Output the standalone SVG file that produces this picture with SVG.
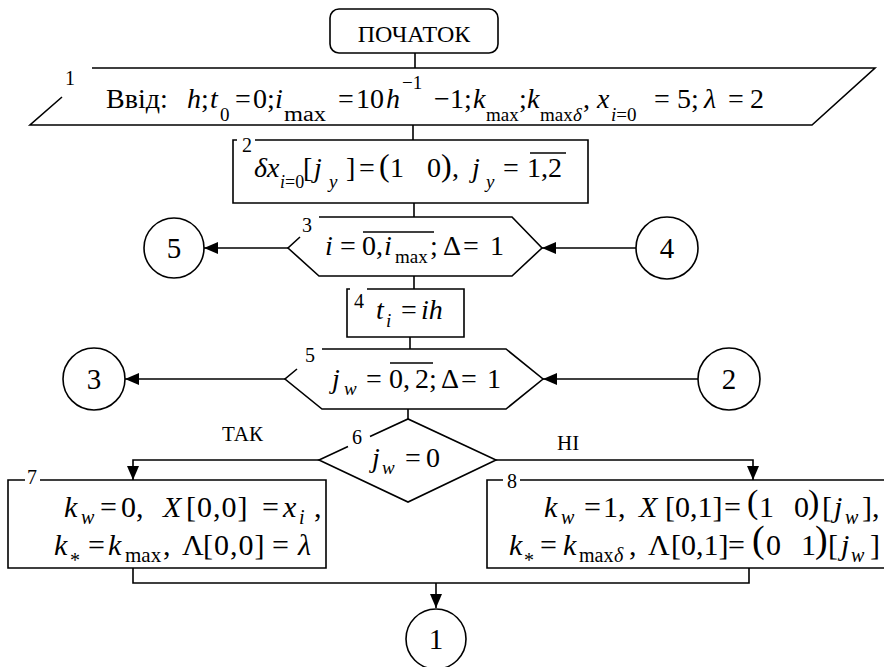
<svg xmlns="http://www.w3.org/2000/svg" width="884" height="667" viewBox="0 0 884 667" font-family="'Liberation Serif', 'Times New Roman', serif">
<defs>
<marker id="ah" markerWidth="14" markerHeight="12" refX="14" refY="6" orient="auto" markerUnits="userSpaceOnUse"><path d="M0,0 L14,6 L0,12 z" fill="#000"/></marker>
</defs>
<style>
text{font-family:'Liberation Serif','Times New Roman',serif;fill:#000}
.m{font-size:28px}
.b{font-size:30px}
.i{font-style:italic}
.s{font-size:19px}
.s2{font-size:20px}
.n{font-size:20px}
.sh{fill:none;stroke:#000;stroke-width:1.6}
.ol{stroke:#000;stroke-width:1.3}
.c{fill:#fff;stroke:#000;stroke-width:1.6}
</style>
<rect width="884" height="667" fill="#fff"/>

<g id="connectors" class="sh">
<path d="M415,53 V68"/>
<path d="M413,125 V140"/>
<path d="M414,203 V217"/>
<path d="M414,276 V289"/>
<path d="M410,337 V349"/>
<path d="M408,409 V419"/>
<path d="M288,248 H204" marker-end="url(#ah)"/>
<path d="M636,248 H542" marker-end="url(#ah)"/>
<path d="M285,379 H125" marker-end="url(#ah)"/>
<path d="M698,379 H543" marker-end="url(#ah)"/>
<path d="M319,460 H133 V480" marker-end="url(#ah)"/>
<path d="M496,460 H753 V480" marker-end="url(#ah)"/>
<path d="M133,568 V583 H749 V568"/>
<path d="M436,583 V608" marker-end="url(#ah)"/>
</g>

<g id="start">
<rect class="sh" x="330" y="9" width="168" height="44" rx="9"/>
<text x="414" y="42" font-size="24" text-anchor="middle">ПОЧАТОК</text>
</g>

<g id="n1">
<path class="sh" d="M62,97 L30,125 H812 L875,68 H92"/>
<text class="n" x="65" y="85">1</text>
<text class="m">
<tspan x="106" y="108">Ввід:</tspan>
<tspan x="187" y="108" class="i">h</tspan><tspan x="201" y="108">;</tspan>
<tspan x="210" y="108" class="i">t</tspan><tspan x="220" y="121" class="s">0</tspan>
<tspan x="235" y="108">=</tspan><tspan x="253" y="108">0;</tspan>
<tspan x="275" y="108" class="i">i</tspan><tspan x="284" y="121" font-size="20" textLength="42" lengthAdjust="spacingAndGlyphs">max</tspan>
<tspan x="338" y="108">=</tspan><tspan x="356" y="108">10</tspan>
<tspan x="386" y="108" class="i">h</tspan><tspan x="402" y="89" class="s">−1</tspan>
<tspan x="434" y="108">−</tspan><tspan x="450" y="108">1;</tspan>
<tspan x="473" y="108" class="i">k</tspan><tspan x="486" y="121" class="s">max</tspan><tspan x="519" y="108">;</tspan>
<tspan x="527" y="108" class="i">k</tspan><tspan x="540" y="121" class="s">max</tspan><tspan x="573" y="121" class="s i">δ</tspan>
<tspan x="583" y="108">,</tspan>
<tspan x="597" y="108" class="i">x</tspan><tspan x="611" y="121" class="s"><tspan class="i">i</tspan>=0</tspan>
<tspan x="654" y="108">=</tspan><tspan x="677" y="108">5;</tspan>
<tspan x="704" y="108" class="i">λ</tspan><tspan x="728" y="108">=</tspan><tspan x="750" y="108">2</tspan>
</text>
</g>

<g id="n2">
<path class="sh" d="M237,140 H233 V203 H588 V140 H255"/>
<text class="n" x="242" y="152">2</text>
<text class="m">
<tspan x="254" y="177" class="i">δx</tspan>
<tspan x="280" y="188" font-size="18"><tspan class="i">i</tspan>=0</tspan>
<tspan x="303" y="177">[</tspan><tspan x="314" y="177" class="i">j</tspan><tspan x="329" y="188" class="s i">y</tspan>
<tspan x="346" y="177">]</tspan><tspan x="359" y="177">=</tspan>
<tspan x="379" y="176" font-size="32">(</tspan><tspan x="390" y="177">1</tspan>
<tspan x="427" y="177">0</tspan><tspan x="441" y="176" font-size="32">)</tspan><tspan x="452" y="177">,</tspan>
<tspan x="472" y="177" class="i">j</tspan><tspan x="486" y="188" class="s i">y</tspan>
<tspan x="503" y="177">=</tspan><tspan x="527" y="177">1,2</tspan>
</text>
<line class="ol" x1="530" y1="153" x2="566" y2="153"/>
</g>

<g id="n3">
<path class="sh" d="M300,237 L288,248 L319,276 H512 L542,248 L512,217 H319"/>
<text class="n" x="302" y="232">3</text>
<text class="m">
<tspan x="325" y="255" class="i">i</tspan><tspan x="340" y="255">=</tspan>
<tspan x="362" y="255">0,</tspan>
<tspan x="384" y="255" class="i">i</tspan><tspan x="395" y="263" class="s">max</tspan>
<tspan x="430" y="255">;</tspan><tspan x="443" y="255">Δ</tspan>
<tspan x="463" y="255">=</tspan><tspan x="490" y="255">1</tspan>
</text>
<line class="ol" x1="363" y1="232" x2="434" y2="232"/>
</g>

<g id="n4">
<path class="sh" d="M350,289 H347 V337 H464 V289 H367"/>
<text class="n" x="354" y="308">4</text>
<text class="m">
<tspan x="376" y="319" class="i">t</tspan><tspan x="386" y="327" class="s i">i</tspan>
<tspan x="401" y="319">=</tspan><tspan x="421" y="319" class="i">ih</tspan>
</text>
</g>

<g id="n5">
<path class="sh" d="M297,369 L285,379 L322,409 H506 L543,379 L506,349 H322"/>
<text class="n" x="305" y="362">5</text>
<text class="m">
<tspan x="332" y="388" class="i">j</tspan><tspan x="344" y="395" class="s i">w</tspan>
<tspan x="366" y="388">=</tspan><tspan x="389" y="388">0,</tspan>
<tspan x="415" y="388">2;</tspan>
<tspan x="441" y="388">Δ</tspan><tspan x="461" y="388">=</tspan><tspan x="487" y="388">1</tspan>
</text>
<line class="ol" x1="390" y1="363" x2="433" y2="363"/>
</g>

<g id="n6">
<path class="sh" d="M348,446.6 L319,460 L408,502 L496,460 L408,419 L370,436.5"/>
<text class="n" x="352" y="444">6</text>
<text class="m">
<tspan x="372" y="467" class="i">j</tspan><tspan x="382" y="474" class="s i">w</tspan>
<tspan x="405" y="467">=</tspan><tspan x="426" y="467">0</tspan>
</text>
<text x="222" y="441" font-size="21">ТАК</text>
<text x="557" y="450" font-size="21">НІ</text>
</g>

<g id="n7">
<path class="sh" d="M25,480 H8 V568 H326 V480 H40"/>
<text class="n" x="27" y="484">7</text>
<text class="b">
<tspan x="64" y="517" class="i">k</tspan><tspan x="81" y="524" class="s2 i">w</tspan>
<tspan x="100" y="517">=</tspan><tspan x="121" y="517">0,</tspan>
<tspan x="163" y="517" class="i">X</tspan><tspan x="186" y="517" letter-spacing="1">[0,0]</tspan>
<tspan x="262" y="517">=</tspan><tspan x="283" y="517" class="i">x</tspan>
<tspan x="299" y="524" class="s2 i">i</tspan><tspan x="314" y="517">,</tspan>
<tspan x="54" y="555" class="i">k</tspan><tspan x="70" y="567" class="s2">*</tspan>
<tspan x="88" y="555">=</tspan><tspan x="108" y="555" class="i">k</tspan>
<tspan x="125" y="562" font-size="21">max</tspan><tspan x="163" y="555">,</tspan>
<tspan x="182" y="555">Λ</tspan><tspan x="203" y="555" letter-spacing="1">[0,0]</tspan>
<tspan x="272" y="555">=</tspan><tspan x="298" y="555" class="i">λ</tspan>
</text>
</g>

<g id="n8">
<path class="sh" d="M503,480 H487 V568 H890 M890,480 H520"/>
<text class="n" x="507" y="488">8</text>
<text class="b">
<tspan x="544" y="517" class="i">k</tspan><tspan x="561" y="524" class="s2 i">w</tspan>
<tspan x="584" y="517">=</tspan><tspan x="603" y="517">1,</tspan>
<tspan x="639" y="517" class="i">X</tspan><tspan x="665" y="517">[0,1]</tspan>
<tspan x="724" y="517">=</tspan>
<tspan x="747" y="513" font-size="34">(</tspan><tspan x="759" y="517">1</tspan>
<tspan x="794" y="517">0</tspan><tspan x="808" y="513" font-size="34">)</tspan>
<tspan x="822" y="517">[</tspan><tspan x="834" y="517" class="i">j</tspan>
<tspan x="845" y="524" class="s2 i">w</tspan><tspan x="862" y="517">],</tspan>
<tspan x="509" y="555" class="i">k</tspan><tspan x="524" y="567" class="s2">*</tspan>
<tspan x="540" y="555">=</tspan><tspan x="563" y="555" class="i">k</tspan>
<tspan x="579" y="562" class="s2">max</tspan><tspan x="614" y="562" class="s2 i">δ</tspan>
<tspan x="629" y="555">,</tspan><tspan x="648" y="555">Λ</tspan><tspan x="671" y="555">[0,1]</tspan>
<tspan x="728" y="555">=</tspan>
<tspan x="752" y="552" font-size="38">(</tspan><tspan x="766" y="555">0</tspan>
<tspan x="801" y="555">1</tspan><tspan x="815" y="552" font-size="38">)</tspan>
<tspan x="828" y="555">[</tspan><tspan x="841" y="555" class="i">j</tspan>
<tspan x="851" y="562" class="s2 i">w</tspan><tspan x="870" y="555">]</tspan>
</text>
</g>

<g id="c5"><circle class="c" cx="174" cy="248" r="30"/><text x="174" y="258" font-size="29" text-anchor="middle">5</text></g>
<g id="c4"><circle class="c" cx="667" cy="248" r="31"/><text x="667" y="258" font-size="29" text-anchor="middle">4</text></g>
<g id="c3"><circle class="c" cx="94" cy="379" r="31"/><text x="94" y="389" font-size="29" text-anchor="middle">3</text></g>
<g id="c2"><circle class="c" cx="729" cy="379" r="31"/><text x="729" y="389" font-size="29" text-anchor="middle">2</text></g>
<g id="c1"><circle class="c" cx="436" cy="639" r="30"/><text x="436" y="649" font-size="29" text-anchor="middle">1</text></g>
</svg>
